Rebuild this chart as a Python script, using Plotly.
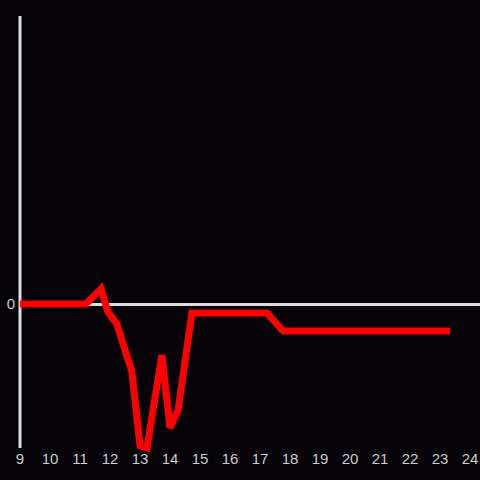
import plotly.graph_objects as go

x_vals = [9, 11.2, 11.7, 11.93, 12.23, 12.73, 13.0, 13.23, 13.73, 14.0, 14.27, 14.73, 17.23, 17.77, 23.33]
y_vals = [0, 0, 0.42, -0.22, -0.56, -1.89, -3.94, -4.0, -1.42, -3.44, -2.94, -0.25, -0.25, -0.75, -0.75]
x_ticks = list(range(9, 25))
y_ticks = [0]

fig = go.Figure(go.Scatter(x=x_vals, y=y_vals, mode="lines",
                           line=dict(color="#ff0000", width=7), hoverinfo="skip",
                           cliponaxis=False))

fig.add_shape(type="line", xref="paper", yref="y", x0=0, x1=0, y0=-4, y1=8,
              line=dict(color="#dddddd", width=3), layer="below")

fig.update_layout(
    width=480, height=480,
    margin=dict(l=20, r=0, t=16, b=23),
    paper_bgcolor="#050308", plot_bgcolor="#050308",
    showlegend=False,
    font=dict(family="Liberation Sans, Arial, sans-serif", size=15, color="#cccccc"),
    xaxis=dict(range=[9, 24.33], tickvals=x_ticks, showgrid=False, zeroline=False,
               showline=False, ticks="", ticklen=0, ticklabelstandoff=-9),
    yaxis=dict(range=[-4.25, 8], tickvals=y_ticks, showgrid=False, zeroline=True,
               zerolinecolor="#dddddd", zerolinewidth=3, showline=False,
               ticks="", ticklen=0, ticklabelstandoff=4),
)

fig.write_html("out.html", config={"displayModeBar": False},
               post_script="document.body.style.margin='0';document.body.style.overflow='hidden';")
